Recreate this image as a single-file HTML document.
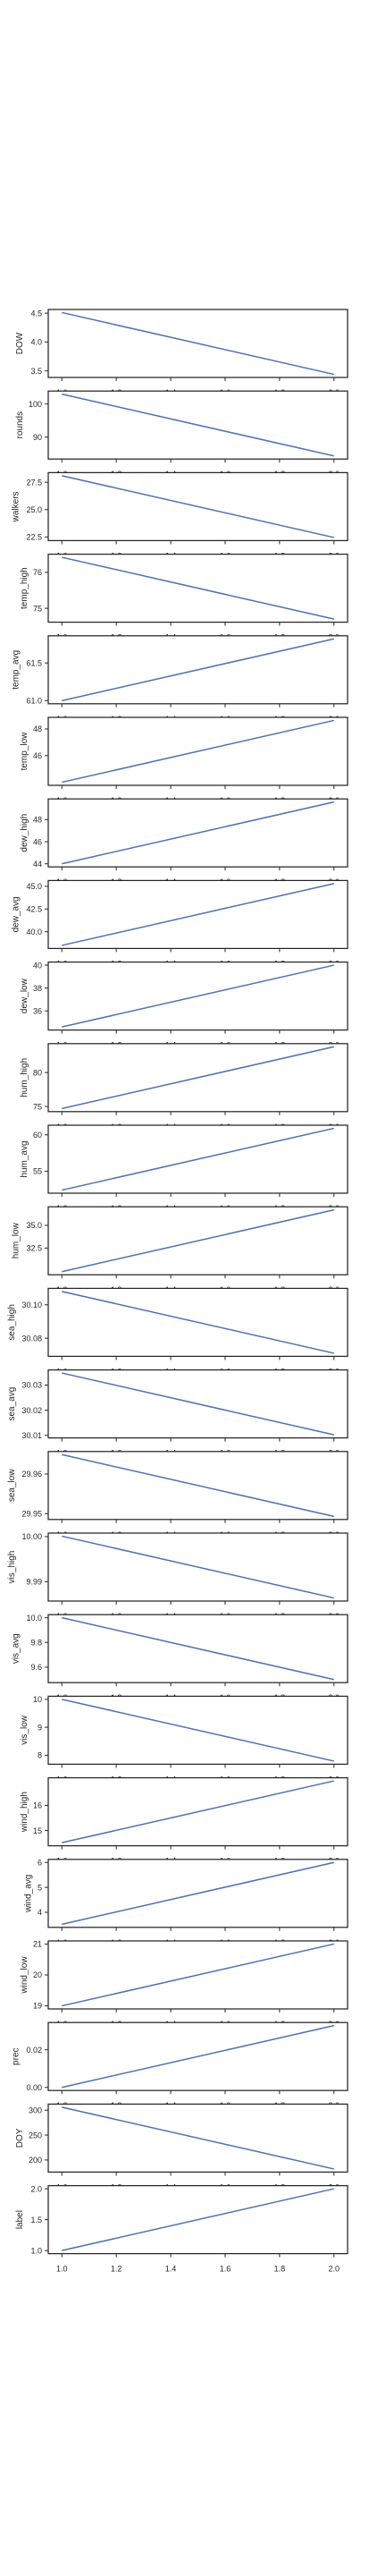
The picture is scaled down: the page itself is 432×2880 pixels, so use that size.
<!DOCTYPE html>
<html><head><meta charset="utf-8">
<style>
html,body{margin:0;padding:0;background:#fff;}
svg{display:block;font-family:"Liberation Sans",Arial,sans-serif;}
</style></head>
<body>
<svg id="chart" width="432" height="2880" viewBox="0 0 432 2880" xmlns="http://www.w3.org/2000/svg"></svg>
<script>
const names = ["DOW","rounds","walkers","temp_high","temp_avg","temp_low","dew_high","dew_avg","dew_low","hum_high","hum_avg","hum_low","sea_high","sea_avg","sea_low","vis_high","vis_avg","vis_low","wind_high","wind_avg","wind_low","prec","DOY","label"];
const xValues = [1, 2];
const startValues = [4.51,103,28.1,76.42,61.0,44.0,44.0,38.5,34.6,74.7,52.4,29.9,30.108,30.0348,29.9649,10.0001,10.0,10,14.52,3.52,19,0,306,1];
const endValues   = [3.44,84.3,22.45,74.7,61.82,48.64,49.6,45.3,40.0,83.8,60.9,36.7,30.071,30.0102,29.9493,9.9864,9.50,7.79,16.97,6.0,21,0.0328,182,2];
const yTicks = [[3.5,4.0,4.5],[90,100],[22.5,25.0,27.5],[75,76],[61.0,61.5],[46,48],[44,46,48],[40.0,42.5,45.0],[36,38,40],[75,80],[55,60],[32.5,35.0],[30.08,30.10],[30.01,30.02,30.03],[29.95,29.96],[9.99,10.00],[9.6,9.8,10.0],[8,9,10],[15,16],[4,5,6],[19,20,21],[0.00,0.02],[200,250,300],[1.0,1.5,2.0]];
const yTickLabels = [["3.5","4.0","4.5"],["90","100"],["22.5","25.0","27.5"],["75","76"],["61.0","61.5"],["46","48"],["44","46","48"],["40.0","42.5","45.0"],["36","38","40"],["75","80"],["55","60"],["32.5","35.0"],["30.08","30.10"],["30.01","30.02","30.03"],["29.95","29.96"],["9.99","10.00"],["9.6","9.8","10.0"],["8","9","10"],["15","16"],["4","5","6"],["19","20","21"],["0.00","0.02"],["200","250","300"],["1.0","1.5","2.0"]];
const xTicks = [1.0,1.2,1.4,1.6,1.8,2.0];
const xTickLabels = ["1.0","1.2","1.4","1.6","1.8","2.0"];

const NS = "http://www.w3.org/2000/svg";
const svg = document.getElementById("chart");
const L = 54, R = 389, TOP0 = 346, PITCH = 91.2, H = 76;
const xmin = 0.95, xmax = 2.05;
function xScale(v){ return L + (v - xmin) / (xmax - xmin) * (R - L); }
function mk(tag, attrs, parent){ const e = document.createElementNS(NS, tag); for (const k in attrs) e.setAttribute(k, attrs[k]); (parent||svg).appendChild(e); return e; }

names.forEach(function(name, i){
  const top = TOP0 + i * PITCH, bot = top + H;
  const lo = Math.min(startValues[i], endValues[i]), hi = Math.max(startValues[i], endValues[i]);
  const pad = (hi - lo) * 0.05;
  const ymin = lo - pad, ymax = hi + pad;
  function yScale(v){ return bot - (v - ymin) / (ymax - ymin) * H; }
  const g = mk("g", {});
  
  
  const bg = mk("rect", {x: L, y: top, width: R - L, height: H, fill: "#fff"}, g);
  
  
  // x ticks + labels
  xTicks.forEach(function(t, j){
    const x = xScale(t);
    const tk = mk("line", {x1: x, x2: x, y1: bot, y2: bot + 4, stroke: "#262626", "stroke-width": 1}, g);
    
    
    const tl = mk("text", {x: x, y: bot + 20, "font-size": 9, fill: "#262626", "text-anchor": "middle"}, g);
    tl.textContent = xTickLabels[j];
    
    
  });
  // y ticks
  let minLeft = L;
  yTicks[i].forEach(function(t, j){
    const y = yScale(t);
    const tk = mk("line", {x1: L - 4, x2: L, y1: y, y2: y, stroke: "#262626", "stroke-width": 1}, g);
    
    
    const tl = mk("text", {x: L - 7, y: y + 3.2, "font-size": 9, fill: "#262626", "text-anchor": "end"}, g);
    tl.textContent = yTickLabels[i][j];
    
    
    const w = yTickLabels[i][j].length * 4.6;
    minLeft = Math.min(minLeft, L - 7 - w);
  });
  // y label
  const lx = minLeft - 8, ly = (top + bot) / 2;
  const yl = mk("text", {x: lx, y: ly, "font-size": 10, fill: "#262626", "text-anchor": "middle", transform: "rotate(-90 " + lx + " " + ly + ")"}, g);
  yl.textContent = name;
  
  
  // line
  const ln = mk("line", {x1: xScale(xValues[0]), y1: yScale(startValues[i]), x2: xScale(xValues[1]), y2: yScale(endValues[i]), stroke: "#4c72b0", "stroke-width": 1.5}, g);
  
  
  // frame
  const fr = mk("rect", {x: L, y: top, width: R - L, height: H, fill: "none", stroke: "#262626", "stroke-width": 1.25}, g);
  
  
});
</script>
</body></html>
